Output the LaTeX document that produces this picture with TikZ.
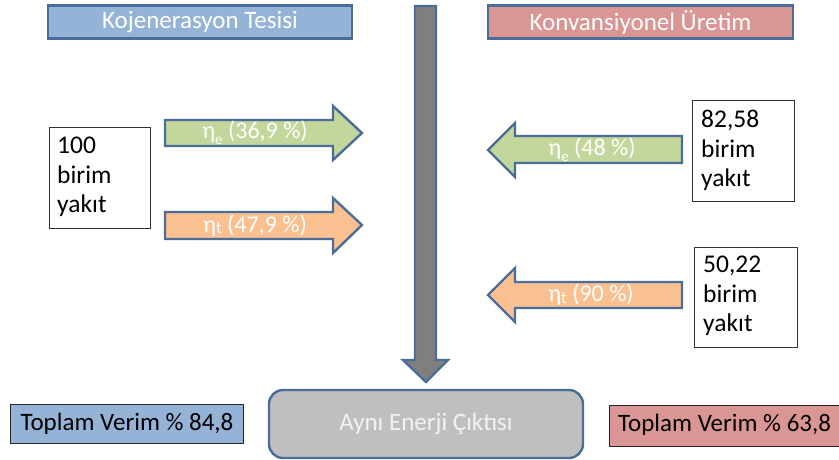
\documentclass[tikz,border=0pt]{standalone}
\usepackage{fontspec}
\setmainfont{Carlito}
\begin{document}
\begin{tikzpicture}[x=1pt,y=-1pt,
  edge/.style={draw=edgeblue,line width=2.4pt,line join=miter},
  header/.style={edge,minimum width=304pt,minimum height=33pt,inner sep=0pt,
    font=\fontsize{25}{29}\selectfont,text=white},
  fuelbox/.style={draw=black!80,line width=1.2pt,fill=white,anchor=north west,
    inner sep=0pt},
  fueltext/.style={anchor=north west,align=left,inner sep=0pt,
    font=\fontsize{25.5}{29.5}\selectfont},
  totalbox/.style={draw=black!85,line width=1pt,inner sep=0pt,anchor=north west},
  totaltext/.style={font=\fontsize{25}{29}\selectfont,inner sep=0pt},
  flowlabel/.style={text=white,font=\fontsize{24}{28}\selectfont,inner sep=0pt},
]
\definecolor{edgeblue}{HTML}{4A6D9A}
\definecolor{hblue}{HTML}{95B3D7}
\definecolor{hred}{HTML}{D99694}
\definecolor{fgreen}{HTML}{C3D69B}
\definecolor{forange}{HTML}{FAC090}
\definecolor{outgray}{HTML}{BFBFBF}
\definecolor{pipegray}{HTML}{7F7F7F}
\useasboundingbox (0,0) rectangle (839,459);
\clip (0,0) rectangle (839,459);

% column headers
\node[header,fill=hblue] (cogen) at (200,22) {Kojenerasyon Tesisi};
\node[header,fill=hred,minimum width=305pt] (conv) at (640.5,22) {Konvansiyonel Üretim};

% central energy stream
\draw[edge,fill=pipegray] (415,6) -- (436,6) -- (436,360) -- (448,360) -- (426,382)
  -- (403,360) -- (415,360) -- cycle;

% output box
\node[edge,fill=outgray,rounded corners=14pt,minimum width=314pt,minimum height=68pt,
  inner sep=0pt,text=white!95!black,font=\fontsize{25}{29}\selectfont]
  (out) at (426,424) {Aynı Enerji Çıktısı};

% cogeneration side
\node[fuelbox,minimum width=101pt,minimum height=101pt] (fuelA) at (49,127) {};
\node[fueltext] (fuelAtxt) at (57,137) {100\\birim\\yakıt};

\draw[edge,fill=fgreen] (165,120) -- (333,120) -- (333,106) -- (362,133) -- (333,160)
  -- (333,146) -- (165,146) -- cycle;
\node[flowlabel] (etaA) at (255,133) {η\raisebox{-0.25em}{\fontsize{15}{15}\selectfont e} (36,9 \%)};

\draw[edge,fill=forange] (165,212) -- (333,212) -- (333,198) -- (362,225) -- (333,253)
  -- (333,239) -- (165,239) -- cycle;
\node[flowlabel] (etaB) at (255,225.5) {η\raisebox{-0.05em}{\fontsize{17}{17}\selectfont t} (47,9 \%)};

% conventional side
\node[fuelbox,minimum width=102pt,minimum height=101pt] (fuelB) at (692,100) {};
\node[fueltext] (fuelBtxt) at (701,110) {82,58\\birim\\yakıt};

\node[fuelbox,minimum width=103pt,minimum height=100pt] (fuelC) at (694,247) {};
\node[fueltext] (fuelCtxt) at (703,256) {50,22\\birim\\yakıt};

\draw[edge,fill=fgreen] (682,136) -- (515,136) -- (515,123) -- (488,150) -- (515,177)
  -- (515,163) -- (682,163) -- cycle;
\node[flowlabel] (etaC) at (592,150) {η\raisebox{-0.25em}{\fontsize{15}{15}\selectfont e} (48 \%)};

\draw[edge,fill=forange] (682,282) -- (515,282) -- (515,268) -- (488,295) -- (515,322)
  -- (515,308) -- (682,308) -- cycle;
\node[flowlabel] (etaD) at (591,295) {η\raisebox{-0.05em}{\fontsize{17}{17}\selectfont t} (90 \%)};

% overall efficiencies
\node[totalbox,fill=hblue,minimum width=233pt,minimum height=39pt] (totA) at (10,404) {};
\node[totaltext] (totAtxt) at (127,424) {Toplam Verim \% 84,8};
\node[totalbox,fill=hred,minimum width=240pt,minimum height=41pt] (totB) at (609,405) {};
\node[totaltext,anchor=west] (totBtxt) at (618,425) {Toplam Verim \% 63,8};
\end{tikzpicture}
\end{document}
